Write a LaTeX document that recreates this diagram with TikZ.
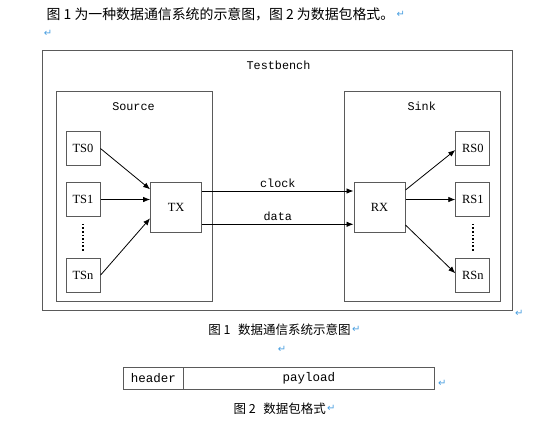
\documentclass[tikz,border=0pt]{standalone}
\usepackage{fontspec}
\setmainfont{Liberation Serif}
\setmonofont{Liberation Mono}
\newfontfamily\cjk{Noto Sans CJK SC}
\newfontfamily\symf{DejaVu Sans}
\usetikzlibrary{arrows.meta,positioning}
\definecolor{boxgray}{HTML}{5A5A5A}
\definecolor{pmark}{HTML}{4A9FE0}
\tikzset{
  frame/.style={draw=boxgray,line width=1pt,inner sep=0pt,anchor=center},
  unit/.style={draw=boxgray,line width=1pt,inner sep=0pt,anchor=center,minimum width=34pt,minimum height=33.6pt,font=\fontsize{12.5}{12.5}\selectfont},
  core/.style={draw=boxgray,line width=1pt,inner sep=0pt,anchor=center,minimum width=51pt,minimum height=50.3pt,font=\fontsize{12.5}{12.5}\selectfont},
  mono/.style={font=\ttfamily\fontsize{11.8}{11.8}\selectfont,inner sep=0pt},
  arr/.style={line width=0.8pt,-{Latex[length=7pt,width=5.5pt]}},
  dotline/.style={line width=1.6pt,dash pattern=on 1.6pt off 2pt},
  pm/.style={font=\symf\fontsize{10}{10}\selectfont,text=pmark,inner sep=0pt},
  cn/.style={font=\cjk\fontsize{13.9}{13.9}\selectfont,inner sep=0pt},
  captext/.style={font=\cjk\fontsize{12.5}{12.5}\selectfont,inner sep=0pt},
  cell/.style={draw=boxgray,line width=1pt,inner sep=0pt,anchor=center,minimum height=21.6pt,font=\ttfamily\fontsize{12.5}{12.5}\selectfont}
}
\begin{document}
\begin{tikzpicture}[x=1pt,y=-1pt]
\useasboundingbox (0,0) rectangle (548,424);
% intro text
\node[cn,anchor=west] (intro) at (46.5,14) {图 1 为一种数据通信系统的示意图，图 2 为数据包格式。};
\node[pm,anchor=west] (pm1) at ([xshift=2pt]intro.east) {↵};
\node[pm] (pm2) at (48,33) {↵};
% frames
\node[frame,minimum width=470pt,minimum height=260pt] (tb) at (277,180) {};
\node[mono] (tbl) at (278.5,65) {Testbench};
\node[pm,anchor=west] (pm3) at (515,313) {↵};
\node[frame,minimum width=156pt,minimum height=209.7pt] (src) at (134,196.8) {};
\node[mono] (srcl) at (133.5,106.5) {Source};
\node[frame,minimum width=156pt,minimum height=209.7pt] (snk) at (422,196.8) {};
\node[mono] (snkl) at (421.7,106.5) {Sink};
% source units
\node[unit] (ts0) at (83,148.5) {TS0};
\node[unit] (ts1) at (83,199.5) {TS1};
\node[unit] (tsn) at (83,275.2) {TSn};
\draw[dotline] (ts1.south) ++(0,7) coordinate (d1) -- ([yshift=6pt]tsn.north);
\node[core] (tx) at (176.1,207.6) {TX};
% sink units
\node[core] (rx) at (379.5,207.5) {RX};
\node[unit] (rs0) at (472.8,148.6) {RS0};
\node[unit] (rs1) at (472.8,199.5) {RS1};
\node[unit] (rsn) at (472.8,275.2) {RSn};
\draw[dotline] (rs1.south) ++(0,7) coordinate (d2) -- ([yshift=6pt]rsn.north);
% arrows source
\draw[arr] (ts0.east) -- ([yshift=18.3pt]tx.west);
\draw[arr] (ts1.east) -- (ts1.east -| tx.west);
\draw[arr] (tsn.east) -- ([yshift=-10.7pt]tx.west);
% links
\draw[arr] ([yshift=16.6pt]tx.east) -- ([yshift=16.6pt]tx.east -| rx.west) node[mono,midway,above=3pt] (clk) {clock};
\draw[arr] ([yshift=-16.7pt]tx.east) -- ([yshift=-16.7pt]tx.east -| rx.west) node[mono,midway,above=3pt] (dat) {data};
% arrows sink
\draw[arr] ([yshift=17.5pt]rx.east) -- ([yshift=-1.4pt]rs0.west);
\draw[arr] (rs1.west -| rx.east) -- (rs1.west);
\draw[arr] ([yshift=-17.5pt]rx.east) -- ([yshift=1.9pt]rsn.west);
% caption 1
\node[captext] (cap1) at (279.5,329.3) {图 1\hspace{0.6em}数据通信系统示意图};
\node[pm,anchor=west] (pm4) at ([xshift=1pt]cap1.east) {↵};
\node[pm] (pm5) at (282,349) {↵};
% packet
\node[cell,minimum width=60pt] (hdr) at (153.3,378.5) {header};
\node[cell,minimum width=251pt] (pay) at (308.8,378.5) {payload};
\node[pm,anchor=west] (pm6) at ([xshift=3pt,yshift=-5pt]pay.east) {↵};
% caption 2
\node[captext] (cap2) at (279.7,408.3) {图 2\hspace{0.6em}数据包格式};
\node[pm,anchor=west] (pm7) at ([xshift=1pt]cap2.east) {↵};
\end{tikzpicture}
\end{document}
